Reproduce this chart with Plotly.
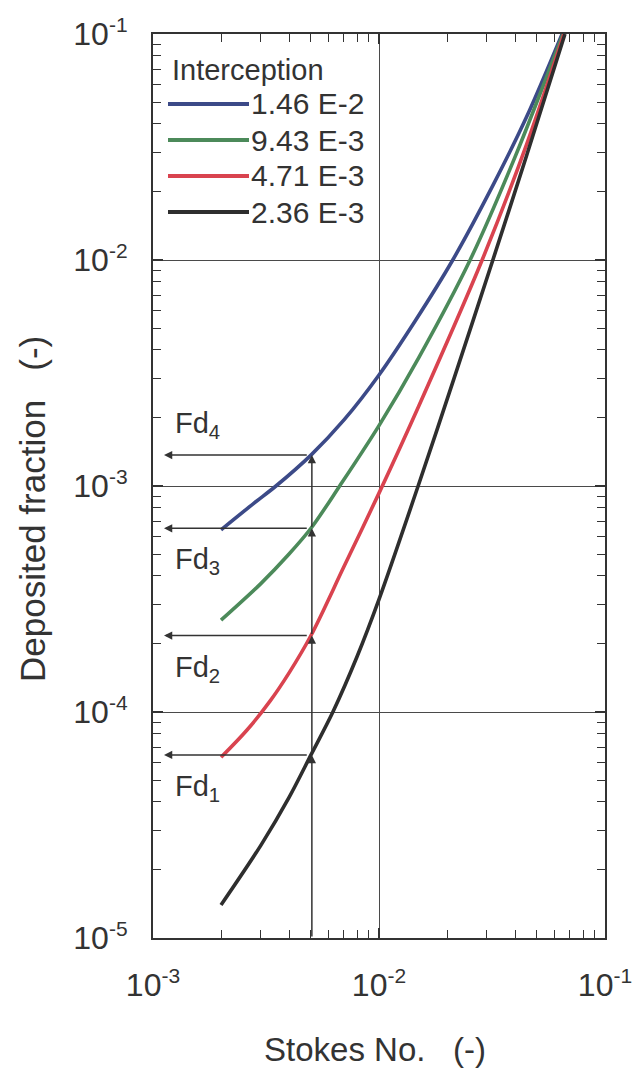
import math
import plotly.graph_objects as go

# ---------------- data ----------------
interception_labels = ["1.46 E-2", "9.43 E-3", "4.71 E-3", "2.36 E-3"]
colors = ["#3c4a88", "#4c8a5a", "#d9434f", "#2e2e2e"]

st_blue = [0.002, 0.0028, 0.0035, 0.005, 0.007, 0.01, 0.0145, 0.0212, 0.032, 0.045, 0.0646]
fd_blue = [6.4e-4, 8.4e-4, 1.0e-3, 1.37e-3, 1.96e-3, 3.1e-3, 5.4e-3, 1.0e-2, 2.15e-2, 4.3e-2, 1.0e-1]

st_green = [0.002, 0.003, 0.004, 0.005, 0.0067, 0.01, 0.015, 0.0253, 0.04, 0.0652]
fd_green = [2.55e-4, 3.7e-4, 5.0e-4, 6.5e-4, 1.0e-3, 1.85e-3, 3.7e-3, 1.0e-2, 2.86e-2, 1.0e-1]

st_red = [0.002, 0.0026, 0.0033, 0.004, 0.005, 0.007, 0.01, 0.015, 0.0286, 0.045, 0.0658]
fd_red = [6.3e-5, 8.3e-5, 1.12e-4, 1.49e-4, 2.18e-4, 4.4e-4, 9.3e-4, 2.26e-3, 1.0e-2, 3.25e-2, 1.0e-1]

st_black = [0.002, 0.003, 0.004, 0.005, 0.00625, 0.008, 0.01, 0.0149, 0.0215, 0.0319, 0.045, 0.0665]
fd_black = [1.4e-5, 2.57e-5, 4.19e-5, 6.46e-5, 1.0e-4, 1.76e-4, 3.15e-4, 1.0e-3, 3.0e-3, 1.0e-2, 2.9e-2, 1.0e-1]

# Stokes number at which the deposited fractions Fd1..Fd4 are read
st_marker = 0.005
fd_labels = ["Fd<sub>1</sub>", "Fd<sub>2</sub>", "Fd<sub>3</sub>", "Fd<sub>4</sub>"]

x_tickvals = [1e-3, 1e-2, 1e-1]
x_exponents = ["-3", "-2", "-1"]
y_tickvals = [1e-5, 1e-4, 1e-3, 1e-2, 1e-1]
y_exponents = ["-5", "-4", "-3", "-2", "-1"]

x_title = "Stokes No.\u00a0\u00a0 (-)"
y_title = "Deposited fraction\u00a0\u00a0 (-)"
legend_title = "Interception"

# ---------------- figure ----------------
FONT = "Liberation Sans, Arial, Helvetica, sans-serif"
TXT = "#333333"


def pow10_label(e):
    return "10<sup><span style='font-size:21px'>" + e + "</span></sup>"


x_ticktext = [pow10_label(e) for e in x_exponents]
y_ticktext = [pow10_label(e) for e in y_exponents]

series = [(st_blue, fd_blue), (st_green, fd_green), (st_red, fd_red), (st_black, fd_black)]

fig = go.Figure()
for (sx, sy), col, lab in zip(series, colors, interception_labels):
    fig.add_trace(go.Scatter(x=sx, y=sy, mode="lines", name=lab,
                             line=dict(color=col, width=3.6, shape="spline", smoothing=0.9),
                             showlegend=False, hoverinfo="skip"))


def value_at(sx, sy, x0):
    return sy[sx.index(x0)]


fd_levels = [value_at(sx, sy, st_marker) for sx, sy in series][::-1]  # Fd1 (black) ... Fd4 (blue)

lx = math.log10
W, H = 634, 1073
ML, MR, MT, MB = 153, 29, 34, 135
PW, PH = W - ML - MR, H - MT - MB


def px_x(p):
    return (p - ML) / PW


def px_y(p):
    return 1 - (p - MT) / PH


annotations = []
arrow_tail_st = 10 ** (-3 + 11 / (PW / 2))
label_st = 10 ** (-3 + 20 / (PW / 2))
# horizontal arrows (pointing to the Fd axis)
for lvl in fd_levels:
    annotations.append(dict(x=lx(arrow_tail_st), y=lx(lvl), ax=lx(st_marker) - 0.012, ay=lx(lvl),
                            xref="x", yref="y", axref="x", ayref="y", text="", showarrow=True,
                            arrowhead=2, arrowsize=1.1, arrowwidth=1.5, arrowcolor="#333"))
# vertical arrow from the bottom through each curve
prev = 1e-5
for lvl in fd_levels:
    annotations.append(dict(x=lx(st_marker) + 0.004, y=lx(lvl), ax=lx(st_marker) + 0.004, ay=lx(prev),
                            xref="x", yref="y", axref="x", ayref="y", text="", showarrow=True,
                            arrowhead=2, arrowsize=1.1, arrowwidth=1.5, arrowcolor="#333"))
    prev = lvl
# Fd labels
for i, (lvl, t) in enumerate(zip(fd_levels, fd_labels)):
    annotations.append(dict(x=lx(label_st), y=lx(lvl), xref="x", yref="y", text=t, showarrow=False,
                            xanchor="left", yanchor="middle", yshift=(30 if i == 3 else -33),
                            font=dict(family=FONT, size=29, color=TXT)))

# manual legend
annotations.append(dict(x=px_x(170), y=px_y(70), xref="paper", yref="paper", text=legend_title,
                        showarrow=False, xanchor="left", yanchor="middle",
                        font=dict(family=FONT, size=29, color=TXT)))
shapes = []
row_y = [104, 140, 176, 212]
for ry, col, lab in zip(row_y, colors, interception_labels):
    shapes.append(dict(type="line", xref="paper", yref="paper", x0=px_x(168), x1=px_x(249),
                       y0=px_y(ry), y1=px_y(ry), line=dict(color=col, width=3.8)))
    annotations.append(dict(x=px_x(249), y=px_y(ry), xref="paper", yref="paper", text=lab,
                            showarrow=False, xanchor="left", yanchor="middle",
                            font=dict(family=FONT, size=30, color=TXT)))

# axis titles
annotations.append(dict(x=px_x(375), y=px_y(1049), xref="paper", yref="paper", text=x_title,
                        showarrow=False, xanchor="center", yanchor="middle",
                        font=dict(family=FONT, size=33, color=TXT)))
annotations.append(dict(x=px_x(32), y=px_y(509), xref="paper", yref="paper", text=y_title,
                        showarrow=False, xanchor="center", yanchor="middle", textangle=-90,
                        font=dict(family=FONT, size=35, color=TXT)))

minor_x = [m * 10 ** e for e in (-3, -2) for m in range(2, 10)]
minor_y = [m * 10 ** e for e in (-5, -4, -3, -2) for m in range(2, 10)]

axis_common = dict(type="log", showline=True, linewidth=2, linecolor="#333", mirror="allticks",
                   ticks="inside", ticklen=10, tickwidth=1.5, tickcolor="#333",
                   showgrid=True, gridcolor="#4a4a4a", gridwidth=1.3, automargin=False,
                   tickfont=dict(family=FONT, size=32, color=TXT))

fig.update_layout(
    width=W, height=H,
    margin=dict(l=ML, r=MR, t=MT, b=MB, autoexpand=False),
    paper_bgcolor="white", plot_bgcolor="white",
    xaxis=dict(range=[-3, -1], tickmode="array", tickvals=x_tickvals, ticktext=x_ticktext,
               minor=dict(tickmode="array", tickvals=minor_x, ticks="inside", ticklen=8,
                          tickwidth=1.4, tickcolor="#333", showgrid=False),
               ticklabelstandoff=18,
               **axis_common),
    yaxis=dict(range=[-5, -1], tickmode="array", tickvals=y_tickvals, ticktext=y_ticktext,
               minor=dict(tickmode="array", tickvals=minor_y, ticks="inside", ticklen=8,
                          tickwidth=1.4, tickcolor="#333", showgrid=False),
               ticklabelstandoff=17,
               **axis_common),
    annotations=annotations,
    shapes=shapes,
    showlegend=False,
)

fig.write_html("out.html", config={"displayModeBar": False},
               post_script="document.body.style.margin='0';")
